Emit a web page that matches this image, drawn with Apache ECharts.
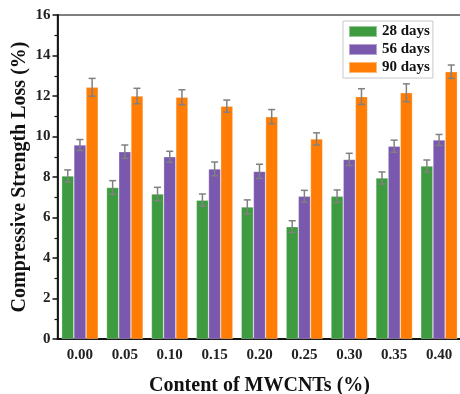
<!DOCTYPE html>
<html>
<head>
<meta charset="utf-8">
<script src="https://cdn.jsdelivr.net/npm/echarts@6/dist/echarts.min.js"></script>
<style>
  html, body { margin: 0; padding: 0; background: #fff; }
  #chart { width: 460px; height: 394px; }
</style>
</head>
<body>
<div id="chart"></div>
<script>
// 横轴：MWCNTs 掺量
var categories = ['0.00', '0.05', '0.10', '0.15', '0.20', '0.25', '0.30', '0.35', '0.40']
// 各龄期强度损失 (%)
var days28 = [8.05, 7.48, 7.16, 6.86, 6.52, 5.55, 7.05, 7.95, 8.54]
var days56 = [9.58, 9.25, 9.00, 8.40, 8.28, 7.05, 8.87, 9.52, 9.83]
var days90 = [12.43, 12.00, 11.94, 11.50, 10.98, 9.88, 11.97, 12.16, 13.20]
// 误差
var err28 = [0.30, 0.34, 0.33, 0.30, 0.35, 0.29, 0.31, 0.30, 0.30]
var err56 = [0.27, 0.33, 0.27, 0.34, 0.35, 0.29, 0.30, 0.30, 0.27]
var err90 = [0.44, 0.38, 0.37, 0.30, 0.35, 0.30, 0.39, 0.44, 0.33]
var seriesNames = ['28 days', '56 days', '90 days']
var colors = ['#3f9b3f', '#7a58ae', '#ff7d05']

var font = 'Liberation Serif'
var catGap = 0.185

var chart = echarts.init(document.getElementById('chart'))

// 误差棒（自定义系列）
function errorSeries (vals, errs, k) {
  var data = vals.map(function (v, i) { return [i, v, errs[i]] })
  return {
    type: 'custom',
    name: seriesNames[k] + ' err',
    z: 5,
    silent: true,
    data: data,
    encode: { x: 0, y: 1 },
    renderItem: function (params, api) {
      var i = api.value(0)
      var v = api.value(1)
      var e = api.value(2)
      var band = api.size([1, 0])[0]
      var barW = band * (1 - catGap) / 3
      var off = (k - 1) * barW
      var top = api.coord([i, v + e])
      var bot = api.coord([i, v - e])
      var x = top[0] + off
      var cap = 3.5
      var style = { stroke: '#808080', lineWidth: 1.5 }
      return {
        type: 'group',
        children: [
          { type: 'line', shape: { x1: x, y1: top[1], x2: x, y2: bot[1] }, style: style },
          { type: 'line', shape: { x1: x - cap, y1: top[1], x2: x + cap, y2: top[1] }, style: style },
          { type: 'line', shape: { x1: x - cap, y1: bot[1], x2: x + cap, y2: bot[1] }, style: style }
        ]
      }
    }
  }
}

function barSeries (vals, k) {
  return {
    type: 'bar',
    name: seriesNames[k],
    data: vals,
    barGap: '0%',
    barCategoryGap: (catGap * 100) + '%',
    itemStyle: {
      color: colors[k],
      borderColor: 'rgba(255,255,255,0.45)',
      borderWidth: 0.6
    }
  }
}

var options = {
  animation: false,
  textStyle: { fontFamily: font },
  grid: {
    show: true,
    left: 57.5,
    top: 15,
    width: 404,
    height: 324,
    outerBoundsMode: 'none',
    containLabel: false,
    borderColor: '#555',
    borderWidth: 1.5
  },
  legend: {
    data: seriesNames,
    orient: 'vertical',
    left: 343,
    top: 21,
    itemWidth: 28,
    itemHeight: 11,
    itemGap: 1,
    padding: [2, 3, 2, 5],
    borderColor: '#c8c8c8',
    borderWidth: 1,
    icon: 'rect',
    textStyle: { fontFamily: font, fontWeight: 'bold', fontSize: 15, lineHeight: 17, color: '#111' }
  },
  xAxis: {
    type: 'category',
    data: categories,
    name: 'Content of MWCNTs (%)',
    nameLocation: 'middle',
    nameGap: 37,
    nameTextStyle: { fontFamily: font, fontWeight: 'bold', fontSize: 20, color: '#111' },
    axisLine: { lineStyle: { color: '#111', width: 1.8 } },
    axisTick: { alignWithLabel: true, length: 5, lineStyle: { color: '#111', width: 1.5 } },
    axisLabel: { fontFamily: font, fontWeight: 'bold', fontSize: 15, color: '#222', margin: 9 }
  },
  yAxis: {
    type: 'value',
    min: 0,
    max: 16,
    interval: 2,
    name: 'Compressive Strength Loss (%)',
    nameLocation: 'middle',
    nameGap: 28,
    nameMoveOverlap: false,
    nameTextStyle: { fontFamily: font, fontWeight: 'bold', fontSize: 20, color: '#111' },
    axisLine: { show: true, lineStyle: { color: '#111', width: 1.8 } },
    axisTick: { show: true, length: 5, lineStyle: { color: '#111', width: 1.5 } },
    minorTick: { show: true, splitNumber: 2, length: 3, lineStyle: { color: '#111', width: 1.2 } },
    axisLabel: { fontFamily: font, fontWeight: 'bold', fontSize: 15, color: '#222', margin: 7 },
    splitLine: { show: false }
  },
  series: [
    barSeries(days28, 0),
    barSeries(days56, 1),
    barSeries(days90, 2),
    errorSeries(days28, err28, 0),
    errorSeries(days56, err56, 1),
    errorSeries(days90, err90, 2)
  ]
}

chart.setOption(options, true)
</script>
</body>
</html>
